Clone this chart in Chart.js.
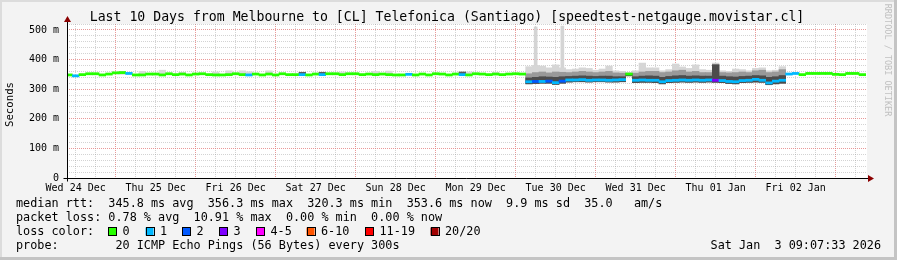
<!DOCTYPE html>
<html>
<head>
<meta charset="utf-8">
<script src="https://cdn.jsdelivr.net/npm/chart.js@4.4.1/dist/chart.umd.min.js"></script>
<style>
html, body { margin: 0; padding: 0; background: #f3f3f3; }
#wrap { width: 897px; height: 260px; }
</style>
</head>
<body>
<div id="wrap"><canvas id="c" width="897" height="260"></canvas></div>
<script>
// hours since Wed 24 Dec 00:00
var dayLabels = ['Wed 24 Dec', 'Thu 25 Dec', 'Fri 26 Dec', 'Sat 27 Dec', 'Sun 28 Dec',
    'Mon 29 Dec', 'Tue 30 Dec', 'Wed 31 Dec', 'Thu 01 Jan', 'Fri 02 Jan'];
var yTickLabels = ['0', '100 m', '200 m', '300 m', '400 m', '500 m'];

var binHours = [
    10, 12, 14, 16, 18, 20, 22, 24, 26, 28,
    30, 32, 34, 36, 38, 40, 42, 44, 46, 48,
    50, 52, 54, 56, 58, 60, 62, 64, 66, 68,
    70, 72, 74, 76, 78, 80, 82, 84, 86, 88,
    90, 92, 94, 96, 98, 100, 102, 104, 106, 108,
    110, 112, 114, 116, 118, 120, 122, 124, 126, 128,
    130, 132, 134, 136, 138, 140, 142, 144, 146, 148,
    150, 152, 154, 156, 158, 160, 162, 164, 166, 168,
    170, 172, 174, 176, 178, 180, 182, 184, 186, 188,
    190, 192, 194, 196, 198, 200, 202, 204, 206, 208,
    210, 212, 214, 216, 218, 220, 222, 224, 226, 228,
    230, 232, 234, 236, 238, 240, 242, 244, 246, 248
];
// median rtt in ms
var medianRtt = [
    348, 345, 349, 352, 352, 348, 351, 355, 356, 353,
    348, 348, 351, 351, 348, 352, 349, 351, 348, 351,
    352, 349, 348, 348, 349, 352, 349, 348, 351, 348,
    351, 348, 352, 349, 349, 349, 348, 351, 349, 352,
    352, 349, 352, 352, 349, 351, 349, 351, 349, 348,
    348, 350, 348, 351, 348, 352, 351, 348, 351, 349,
    348, 352, 351, 349, 351, 349, 351, 352, 351, 325,
    326, 326, 327, 322, 327, 331, 331, 332, 330, 331,
    331, 330, 331, 332, 351, 330, 331, 330, 330, 325,
    329, 330, 331, 330, 331, 330, 331, 330, 329, 326,
    325, 329, 330, 333, 330, 321, 327, 330, 351, 353,
    349, 353, 353, 353, 353, 350, 349, 353, 353, 349
];
// lost pings out of 20
var lossCount = [
    0, 1, 0, 0, 0, 0, 0, 0, 0, 1,
    0, 0, 0, 0, 0, 0, 0, 0, 0, 0,
    0, 0, 0, 0, 0, 0, 0, 1, 0, 0,
    0, 0, 0, 0, 0, 1, 0, 0, 1, 0,
    0, 0, 0, 0, 0, 0, 0, 0, 0, 0,
    0, 1, 0, 0, 0, 0, 0, 0, 0, 1,
    0, 0, 0, 0, 0, 0, 0, 0, 0, 1,
    2, 1, 2, 1, 2, 1, 1, 1, 1, 1,
    1, 1, 1, 1, 0, 1, 1, 1, 1, 1,
    1, 1, 1, 1, 1, 1, 1, 3, 1, 1,
    1, 1, 1, 1, 1, 1, 1, 1, 1, 1,
    0, 0, 0, 0, 0, 0, 0, 0, 0, 0
];

// smoke (spread of the 20 pings) where it is visible
var smokeHours = [148, 150, 152, 154, 156, 158, 160, 162, 164, 166, 168, 170, 172, 174, 176, 178, 180, 182, 184, 186,
    188, 190, 192, 194, 196, 198, 200, 202, 204, 206, 208, 210, 212, 214, 216, 218, 220, 222, 224];
var smokeLow = [318, 319, 320, 320, 316, 320, 324, 325, 325, 324, 325, 325, 324, 324, 325, 345, 322, 323, 323, 322,
    318, 322, 323, 324, 323, 324, 323, 324, 323, 322, 319, 318, 322, 323, 324, 323, 315, 318, 320];
var smokeDark = [338, 340, 342, 341, 340, 342, 343, 344, 345, 344, 343, 344, 344, 342, 342, 352, 342, 344, 345, 344,
    340, 343, 345, 346, 344, 345, 344, 344, 382, 344, 342, 341, 343, 344, 346, 345, 340, 342, 346];
var smokeMid = [352, 356, 358, 355, 358, 357, 356, 358, 360, 358, 356, 358, 360, 355, 354, 354, 354, 358, 360, 360,
    356, 358, 362, 364, 358, 360, 356, 356, 384, 356, 355, 356, 358, 356, 362, 364, 356, 358, 366];
var smokeHigh = [376, 380, 378, 372, 382, 372, 366, 368, 372, 370, 364, 368, 378, 362, 360, 356, 362, 388, 372, 372,
    362, 366, 385, 375, 370, 382, 366, 364, 388, 362, 360, 368, 366, 362, 370, 372, 362, 364, 376];
var spikeHours = [150, 158];
var spikeTop = [510, 513];
var puffHours = [26, 32, 38, 44, 54, 58, 62, 64, 70, 92, 102, 106, 130, 138];
var puffTop = [360, 360, 364, 357, 358, 362, 362, 359, 362, 358, 360, 361, 358, 357];
var darkPuffHours = [80, 86, 128];
var darkPuffTop = [357, 357, 358];

var lossColors = ['#26ff00', '#00b8ff', '#0059ff', '#7e00ff', '#ff00ff', '#ff5500', '#ff0000', '#a10000'];
var lossLabels = ['0', '1', '2', '3', '4-5', '6-10', '11-19', '20/20'];

var titleText = 'Last 10 Days from Melbourne to [CL] Telefonica (Santiago) [speedtest-netgauge.movistar.cl]';
var legendLines = [
    'median rtt:  345.8 ms avg  356.3 ms max  320.3 ms min  353.6 ms now  9.9 ms sd  35.0   am/s',
    'packet loss: 0.78 % avg  10.91 % max  0.00 % min  0.00 % now',
    'loss color:',
    'probe:        20 ICMP Echo Pings (56 Bytes) every 300s'
];
var stampText = 'Sat Jan  3 09:07:33 2026';

var MONO = '"DejaVu Sans Mono", monospace';
var LINE_HALF = 3.6;
var PUFF_BASE = 350;
var SPIKE_BASE = 360;
var MAJOR_GRID = 'rgba(225,110,110,0.7)';
var MINOR_GRID = 'rgba(150,150,150,0.42)';

function ranges(xs, lo, hi) {
    return xs.map(function (x, i) {
        return { x: x, y: [Array.isArray(lo) ? lo[i] : lo, hi[i]] };
    });
}

var medianData = binHours.map(function (h, i) {
    return { x: h, y: [medianRtt[i] - LINE_HALF, medianRtt[i] + LINE_HALF] };
});
var medianColors = lossCount.map(function (l) { return lossColors[l]; });

var barBase = { borderWidth: 0, barPercentage: 1, categoryPercentage: 1, grouped: false };
function bars(extra) { return Object.assign({}, barBase, extra); }

var frame = {
    id: 'rrdFrame',
    beforeDraw: function (chart) {
        var ctx = chart.ctx, a = chart.chartArea, w = chart.width, h = chart.height;
        ctx.save();
        ctx.fillStyle = '#f3f3f3';
        ctx.fillRect(0, 0, w, h);
        ctx.fillStyle = '#dcdcdc';
        ctx.fillRect(0, 0, w, 2);
        ctx.fillRect(0, 0, 2, h);
        ctx.fillStyle = '#c4c4c4';
        ctx.fillRect(0, h - 3, w, 3);
        ctx.fillRect(w - 3, 0, 3, h);
        ctx.fillStyle = '#ffffff';
        ctx.fillRect(a.left, a.top, a.right - a.left, a.bottom - a.top);
        ctx.restore();
    },
    afterDraw: function (chart) {
        var ctx = chart.ctx, a = chart.chartArea;
        var x0 = Math.round(a.left) + 0.5, y0 = Math.round(a.bottom) + 0.5;
        ctx.save();
        // axes with arrow heads
        ctx.strokeStyle = '#000';
        ctx.lineWidth = 1;
        ctx.beginPath();
        ctx.moveTo(x0 - 4, y0);
        ctx.lineTo(a.right + 3, y0);
        ctx.moveTo(x0, y0 + 3);
        ctx.lineTo(x0, a.top - 3);
        ctx.stroke();
        ctx.fillStyle = '#8b0000';
        ctx.beginPath();
        ctx.moveTo(a.right + 1, y0 - 3.5);
        ctx.lineTo(a.right + 7, y0);
        ctx.lineTo(a.right + 1, y0 + 3.5);
        ctx.fill();
        ctx.beginPath();
        ctx.moveTo(x0 - 3.5, a.top - 2);
        ctx.lineTo(x0, a.top - 8);
        ctx.lineTo(x0 + 3.5, a.top - 2);
        ctx.fill();

        ctx.fillStyle = '#000';
        ctx.textBaseline = 'middle';
        ctx.textAlign = 'center';
        ctx.font = '13.2px ' + MONO;
        ctx.fillText(titleText, 447, 18);

        ctx.save();
        ctx.translate(10.5, 104.5);
        ctx.rotate(-Math.PI / 2);
        ctx.font = '10.7px ' + MONO;
        ctx.fillText('Seconds', 0, 0);
        ctx.restore();

        ctx.save();
        ctx.translate(887, 60);
        ctx.rotate(Math.PI / 2);
        ctx.font = '8.5px ' + MONO;
        ctx.fillStyle = '#c0c0c0';
        ctx.fillText('RRDTOOL / TOBI OETIKER', 0, 0);
        ctx.restore();

        ctx.textAlign = 'left';
        ctx.font = '11.8px ' + MONO;
        legendLines.forEach(function (line, i) {
            ctx.fillText(line, 16, 204 + i * 14);
        });
        var boxX = [108, 145.5, 182, 219, 256, 306.5, 365, 430.5];
        lossLabels.forEach(function (lab, i) {
            ctx.fillStyle = lossColors[i];
            ctx.fillRect(boxX[i], 227.5, 8, 8);
            ctx.strokeStyle = '#000';
            ctx.strokeRect(Math.round(boxX[i]) + 0.5, 227.5, 8, 8);
            ctx.fillStyle = '#000';
            ctx.fillText(lab, boxX[i] + 14.5, 232);
        });
        ctx.textAlign = 'right';
        ctx.fillText(stampText, 881, 246);
        ctx.restore();
    }
};

new Chart(document.getElementById('c'), {
    type: 'bar',
    data: {
        datasets: [
            bars({ data: medianData, backgroundColor: medianColors, order: 0 }),
            bars({ data: ranges(darkPuffHours, PUFF_BASE, darkPuffTop), backgroundColor: '#5a5a5a', order: 1 }),
            bars({ data: ranges(smokeHours, smokeLow, smokeDark), backgroundColor: '#4c4c4c', order: 2 }),
            bars({ data: ranges(smokeHours, smokeLow, smokeMid), backgroundColor: '#999999', order: 3 }),
            bars({ data: ranges(smokeHours, smokeLow, smokeHigh), backgroundColor: '#d6d6d6', order: 4 }),
            bars({ data: ranges(puffHours, PUFF_BASE, puffTop), backgroundColor: '#dadada', order: 5 }),
            bars({ data: ranges(spikeHours, SPIKE_BASE, spikeTop), backgroundColor: '#d4d4d4', barThickness: 3, order: 6 })
        ]
    },
    options: {
        responsive: false,
        animation: false,
        events: [],
        layout: { padding: { left: 0, right: 30, top: 24, bottom: 0 } },
        plugins: { legend: { display: false }, tooltip: { enabled: false }, title: { display: false } },
        scales: {
            x: {
                type: 'linear',
                min: 9.4,
                max: 249.4,
                offset: false,
                afterFit: function (s) { s.height = 82; },
                afterBuildTicks: function (s) {
                    var t = [];
                    for (var h = 12; h < 249.4; h += 6) t.push({ value: h });
                    s.ticks = t;
                },
                border: { display: false, dash: [1, 1] },
                grid: {
                    offset: false,
                    drawTicks: false,
                    color: function (c) {
                        return c.tick.value % 24 === 0 ? MAJOR_GRID : MINOR_GRID;
                    }
                },
                ticks: {
                    autoSkip: false,
                    maxRotation: 0,
                    minRotation: 0,
                    padding: 4,
                    color: '#000',
                    font: { family: MONO, size: 10 },
                    callback: function (v) {
                        return v % 24 === 12 ? dayLabels[Math.floor(v / 24)] : '';
                    }
                }
            },
            y: {
                type: 'linear',
                min: 0,
                max: 520,
                afterFit: function (s) { s.width = 67; },
                afterBuildTicks: function (s) {
                    var t = [];
                    for (var v = 0; v <= 520; v += 20) t.push({ value: v });
                    s.ticks = t;
                },
                border: { display: false, dash: [1, 1] },
                grid: {
                    drawTicks: false,
                    color: function (c) {
                        if (c.tick.value === 0) return 'rgba(0,0,0,0)';
                        return c.tick.value % 100 === 0 ? MAJOR_GRID : MINOR_GRID;
                    }
                },
                ticks: {
                    autoSkip: false,
                    padding: 8,
                    color: '#000',
                    font: { family: MONO, size: 10 },
                    callback: function (v) {
                        return v % 100 === 0 ? yTickLabels[v / 100] : '';
                    }
                }
            }
        }
    },
    plugins: [frame]
});
</script>
</body>
</html>
